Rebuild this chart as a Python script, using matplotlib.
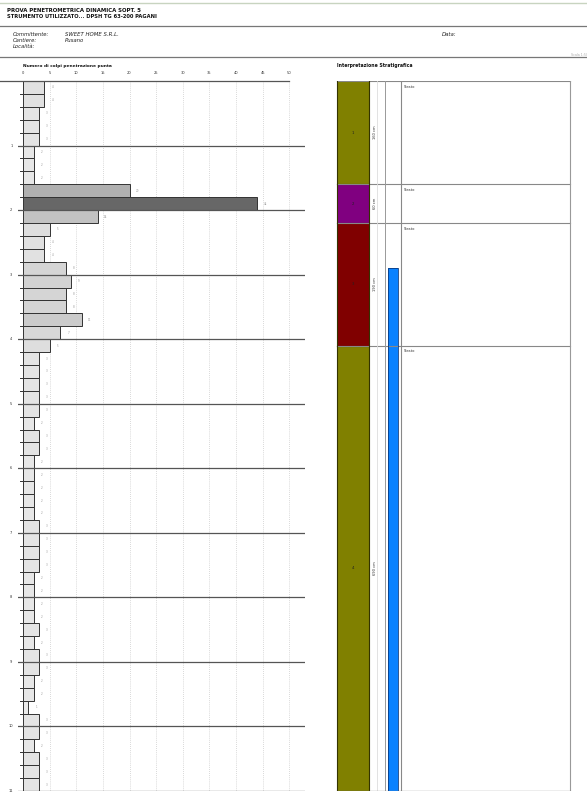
import numpy as np
import matplotlib
matplotlib.use("Agg")
import matplotlib.pyplot as plt

# blow counts every 20 cm, 0 - 11 m
colpi = [4, 4, 3, 3, 3, 2, 2, 2, 20, 44,
         14, 5, 4, 4, 8, 9, 8, 8, 11, 7,
         5, 3, 3, 3, 3, 3, 2, 3, 3, 2,
         2, 2, 2, 2, 3, 3, 3, 3, 2, 2,
         2, 2, 3, 2, 3, 3, 2, 2, 1, 3,
         3, 2, 3, 3, 3]
step = 0.2
depth_ticks = list(range(1, 12))
x_ticks = list(range(0, 55, 5))

# stratigraphy
strati_top = [0.0, 1.6, 2.2, 4.1]
strati_bot = [1.6, 2.2, 4.1, 11.0]
strati_num = ["1", "2", "3", "4"]
strati_spess = ["160 cm", "60 cm", "190 cm", "690 cm"]
strati_col = ["#808000", "#800080", "#800000", "#808000"]
falda_top = 2.9
falda_bot = 11.0

W, H = 587, 801
fig = plt.figure(figsize=(W / 100, H / 100), dpi=100)
fig.patch.set_facecolor("white")

# background axes in pixel coordinates
bg = fig.add_axes([0, 0, 1, 1])
bg.set_xlim(0, W)
bg.set_ylim(H, 0)
bg.axis("off")

bg.plot([0, W], [3, 3], color="#c8d4c0", lw=1)
bg.plot([0, W], [26, 26], color="#777777", lw=0.9)
bg.plot([0, W], [57, 57], color="#777777", lw=0.9)
bg.text(7, 11, "PROVA PENETROMETRICA DINAMICA SOPT. 5", fontsize=3.85,
        fontweight="bold", va="center", ha="left", color="#111111")
bg.text(7, 17, "STRUMENTO UTILIZZATO... DPSH TG 63-200 PAGANI", fontsize=3.7,
        fontweight="bold", va="center", ha="left", color="#111111")
for yy, lab in zip([35, 41, 47], ["Committente:", "Cantiere:", "Località:"]):
    bg.text(13, yy, lab, fontsize=3.8, style="italic", va="center",
            color="#222222")
bg.text(65, 35, "SWEET HOME S.R.L.", fontsize=3.9, style="italic",
        va="center", color="#222222")
bg.text(65, 41, "Pusano", fontsize=3.9, style="italic", va="center",
        color="#222222")
bg.text(442, 35, "Data:", fontsize=3.9, style="italic", va="center",
        color="#222222")
bg.text(571, 55, "Scala 1:50", fontsize=2.3, va="center", color="#aaaaaa")
bg.text(23, 66, "Numero di colpi penetrazione punta", fontsize=3.2,
        fontweight="bold", va="center", color="#111111")
bg.text(337, 66, "Interpretazione Stratigrafica", fontsize=3.3,
        fontweight="bold", va="center", color="#111111")

##### left panel: blow counts
px0, px50 = 23.0, 289.3
ppu = (px50 - px0) / 50
lx0, lx1 = 18, 305
top_px, bot_px = 81, 791
ax = fig.add_axes([lx0 / W, 1 - bot_px / H, (lx1 - lx0) / W,
                   (bot_px - top_px) / H])
ax.set_xlim((lx0 - px0) / ppu, (lx1 - px0) / ppu)
ax.set_ylim(11, 0)
ax.axis("off")

for xt in x_ticks:
    ax.plot([xt, xt], [0, 11], color="#cccccc", lw=0.6, ls=(0, (1, 1.5)),
            zorder=1)
    ax.text(xt, -0.1, str(xt), fontsize=2.6, ha="center", va="bottom",
            color="#333333", clip_on=False)

ax.plot([-4.3, 50], [0, 0], color="#555555", lw=0.9, zorder=3,
        clip_on=False)
for d in depth_ticks:
    ax.plot([-0.94, 52.95], [d, d], color="#555555", lw=0.9, zorder=3)
    ax.text(-2.2, d, str(d), fontsize=2.6, ha="center", va="center",
            color="#333333", clip_on=False)

centers = np.arange(len(colpi)) * step + step / 2
for c, v in zip(centers, colpi):
    g = 0.93 - 0.6 * v / 50
    ax.barh(c, v, height=step, left=0, color=(g, g, g),
            edgecolor="#333333", lw=0.7, zorder=2)
    ax.plot([-0.6, 0], [c - step / 2, c - step / 2], color="#333333",
            lw=0.7, zorder=2)
    ax.text(v + 1.5, c, str(v), fontsize=2.0, ha="center", va="center",
            color="#999999", zorder=4)

##### right panel: stratigraphy
rx0, rx1 = 330, 587
sx = fig.add_axes([rx0 / W, 1 - bot_px / H, (rx1 - rx0) / W,
                   (bot_px - top_px) / H])
sx.set_xlim(rx0, rx1)
sx.set_ylim(11, 0)
sx.axis("off")

for t, b, n, s, col in zip(strati_top, strati_bot, strati_num,
                           strati_spess, strati_col):
    sx.fill_between([337, 369], t, b, color=col, zorder=2, lw=0)
    sx.plot([337, 570], [t, t], color="#888888", lw=0.8, zorder=3)
    sx.plot([337, 369], [b, b], color="#333300", lw=0.8, zorder=3)
    sx.text(353, (t + b) / 2, n, fontsize=2.8, ha="center", va="center",
            color="#222222", zorder=4)
    sx.text(375, (t + b) / 2, s, fontsize=2.6, ha="center", va="center",
            rotation=90, color="#333333", zorder=4)
    sx.text(404, t + 0.09, "Strato", fontsize=2.6, ha="left", va="center",
            color="#333333", zorder=4)
    sx.plot([369, 374], [b, b], color="#bbbbbb", lw=0.6, zorder=3)

sx.plot([337, 337], [0, 11], color="#333300", lw=0.8, zorder=3)
sx.plot([369, 369], [0, 11], color="#333300", lw=0.8, zorder=3)
sx.plot([377, 377], [0, 11], color="#dddddd", lw=0.6, zorder=3)
sx.plot([385, 385], [0, 11], color="#999999", lw=0.7, zorder=3)
sx.plot([401, 401], [0, 11], color="#888888", lw=0.8, zorder=3)
sx.plot([570, 570], [0, 11], color="#999999", lw=0.8, zorder=3)
sx.plot([337, 570], [11, 11], color="#777777", lw=0.9, zorder=3)

sx.fill_between([388, 398], falda_top, falda_bot, color="#0a82ff",
                zorder=2, lw=0)
sx.plot([388, 388, 398, 398], [falda_bot, falda_top, falda_top, falda_bot],
        color="#0a3a80", lw=0.6, zorder=3)

fig.savefig("out.png", dpi=100, facecolor="white")
